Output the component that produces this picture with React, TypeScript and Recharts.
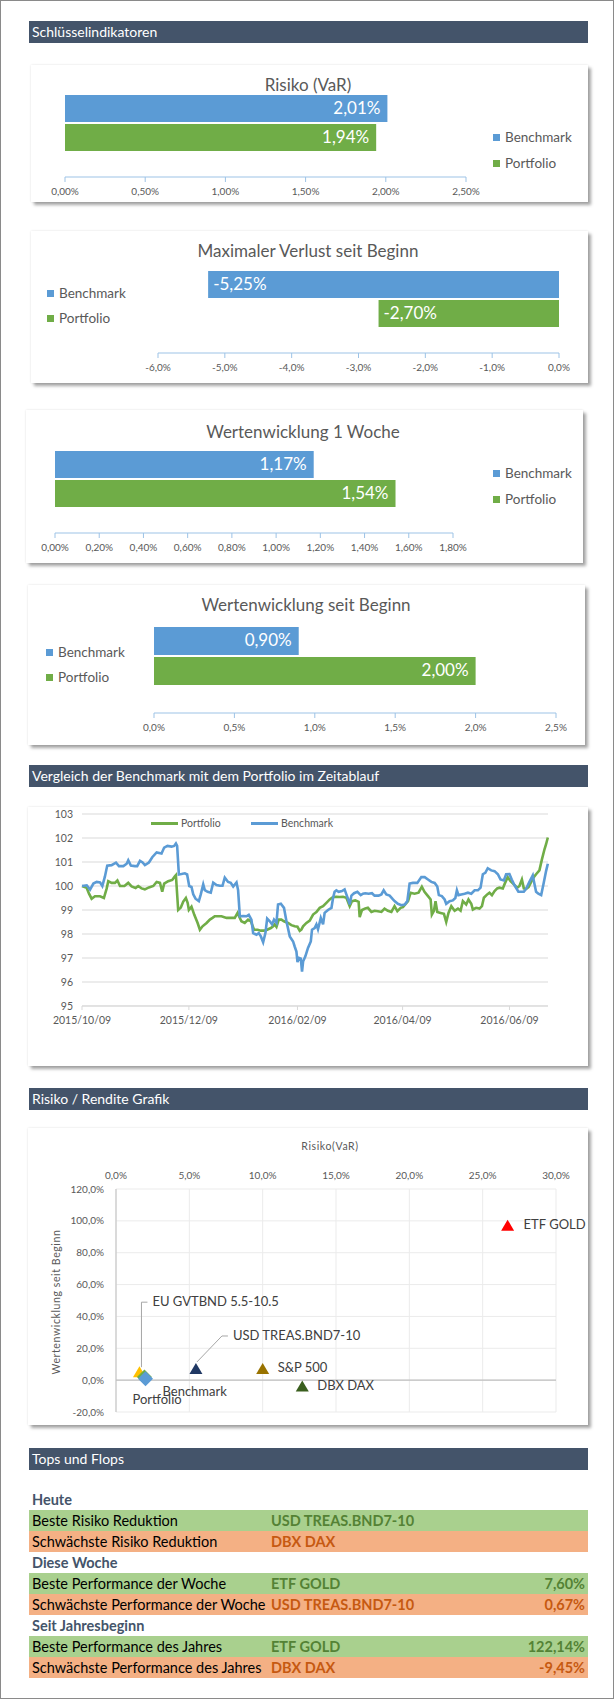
import React from 'react';
import {
  BarChart, Bar, XAxis, YAxis, LineChart, Line, CartesianGrid,
  ScatterChart, Scatter, ReferenceLine,
} from 'recharts';

// Schlüsselindikatoren (Benchmark, Portfolio)
const seriesNames = ['Benchmark', 'Portfolio'];
const varValues = [2.01, 1.94];
const maxLossValues = [-5.25, -2.7];
const week1Values = [1.17, 1.54];
const sinceStartValues = [0.9, 2.0];

const varTicks = [0, 0.5, 1, 1.5, 2, 2.5];
const maxLossTicks = [-6, -5, -4, -3, -2, -1, 0];
const week1Ticks = [0, 0.2, 0.4, 0.6, 0.8, 1, 1.2, 1.4, 1.6, 1.8];
const sinceStartTicks = [0, 0.5, 1, 1.5, 2, 2.5];

// Zeitverlauf: [Tage seit 2015/10/09, Indexwert]
const dateTickDays = [0, 61, 123, 183, 244];
const dateTickLabels = ['2015/10/09', '2015/12/09', '2016/02/09', '2016/04/09', '2016/06/09'];
const indexTicks = [95, 96, 97, 98, 99, 100, 101, 102, 103];

const portfolioSeries: [number, number][] = [
  [0, 100.0], [2.7, 99.92], [4, 99.68], [5.5, 99.47], [7.4, 99.57], [10.3, 99.57], [12.5, 99.5], [14.1, 99.9],
  [15, 100.2], [16.9, 100.13], [18.8, 100.13], [20.2, 100.23], [21.7, 100.0], [24.2, 100.0], [26.4, 100.13],
  [28.3, 99.98], [30.6, 99.92], [32.1, 100.0], [34, 99.9], [35.9, 99.86], [38.2, 99.94], [40.7, 100.0],
  [42.6, 100.17], [44.5, 100.13], [45.8, 99.76], [46.9, 100.1], [49.2, 100.2], [51.5, 100.25], [53, 100.4],
  [53.6, 100.45], [54.9, 99.0], [56.4, 99.1], [57.8, 99.35], [59.3, 99.5], [60.3, 99.3], [61, 99.0],
  [62.5, 99.14], [64.1, 98.8], [66, 98.46], [67.3, 98.18], [68.8, 98.32], [71.1, 98.46], [73, 98.6],
  [74.5, 98.67], [75.8, 98.74], [79.6, 98.74], [82.5, 98.67], [87.2, 98.67], [88.8, 98.88], [90.1, 98.67],
  [91, 98.53], [92.9, 98.46], [94.8, 98.6], [96.4, 98.53], [98.2, 98.18], [100.2, 98.18], [102.1, 98.14],
  [103.9, 98.14], [105.7, 98.18], [107.8, 98.25], [109.1, 98.32], [110, 98.4], [111, 98.3], [112.3, 98.6],
  [113.8, 98.6], [115.3, 98.53], [117.6, 98.46], [119.5, 98.37], [121.4, 98.32], [123, 98.3], [124.3, 98.13],
  [125.2, 98.18], [126.2, 98.32], [128.1, 98.46], [130, 98.56], [131.9, 98.81], [133.8, 98.91], [135.7, 99.09],
  [137.6, 99.16], [139.5, 99.3], [141.4, 99.44], [143.3, 99.54], [145.2, 99.55], [147.1, 99.54], [149, 99.55],
  [150.9, 99.51], [152.8, 99.16], [154.1, 99.37], [156, 99.4], [157.9, 99.34], [158.5, 98.7], [159.8, 99.0],
  [161.7, 99.06], [163.2, 99.09], [165.2, 98.92], [167, 98.97], [168.9, 98.95], [170.9, 98.92], [172.7, 99.06],
  [174.6, 98.97], [176.6, 98.92], [178.4, 99.16], [180, 98.95], [181.9, 99.09], [183.2, 99.12], [184.5, 99.23],
  [186.1, 99.37], [187.6, 99.72], [189.8, 99.68], [192.1, 99.72], [194, 99.97], [195.5, 99.76], [197.5, 99.58],
  [199, 99.44], [199.7, 98.81], [200.9, 98.97], [201.8, 99.37], [202.8, 98.92], [204.7, 98.88], [206.6, 98.84],
  [207.9, 98.5], [209.2, 98.88], [210.8, 99.16], [212.7, 98.97], [214.6, 99.06], [216.1, 98.97], [217.4, 99.37],
  [219.3, 99.23], [220.6, 99.44], [222.2, 99.26], [223.1, 99.02], [225, 99.09], [226.9, 99.06], [228.3, 99.16],
  [229.4, 99.51], [231.3, 99.65], [232.6, 99.72], [234, 99.62], [235.5, 99.79], [237, 99.9], [238.3, 99.93],
  [240.2, 99.9], [241.5, 100.13], [243, 100.37], [244.6, 100.2], [246.5, 100.07], [248.4, 99.93], [249.7, 100.0],
  [251.1, 100.27], [252.2, 99.9], [253.5, 99.88], [254.9, 99.95], [256.4, 100.17], [257.9, 100.37],
  [259.2, 100.49], [261.1, 100.65], [262.5, 101.1], [264, 101.53], [264.9, 101.74], [265.9, 102.02],
];

const benchmarkSeries: [number, number][] = [
  [0, 100.0], [2.7, 100.03], [4.6, 99.85], [6.5, 100.1], [8.4, 100.17], [10.3, 100.15], [11.6, 100.0],
  [13.1, 100.4], [14.4, 100.85], [16.9, 100.87], [19.4, 100.97], [21.1, 100.83], [23.6, 100.83], [25.5, 100.93],
  [26.4, 101.07], [27.9, 100.85], [30.2, 100.83], [31.5, 100.83], [33.1, 101.05], [34.6, 100.98], [35.9, 100.87],
  [38.2, 100.98], [40.1, 101.2], [42.6, 101.4], [45.4, 101.35], [46.9, 101.6], [48.8, 101.67], [51.1, 101.64],
  [52.6, 101.67], [53.6, 101.77], [54.3, 101.67], [55.3, 100.48], [56.8, 100.5], [58.7, 100.53], [60, 100.48],
  [61.2, 100.0], [62.5, 99.96], [63.5, 99.65], [64.8, 99.47], [66.7, 99.37], [67.8, 99.65], [69.2, 100.07],
  [70.1, 99.83], [71.7, 99.76], [73.5, 99.72], [74.9, 100.14], [76.8, 100.04], [78.7, 100.01], [80.2, 100.01],
  [81.5, 100.35], [83.4, 100.17], [84.9, 100.13], [86.3, 99.98], [88.2, 100.15], [89.1, 99.83], [90.1, 98.74],
  [92, 98.75], [93.9, 98.74], [95.2, 98.8], [96.7, 98.6], [97.7, 98.04], [99.6, 97.97], [100.9, 98.04],
  [102.1, 97.9], [103.4, 97.66], [104.7, 98.04], [105.7, 98.64], [107.2, 98.53], [108.5, 98.4], [109.6, 98.6],
  [111, 98.46], [111.9, 99.23], [113.5, 99.26], [115.3, 99.09], [116.7, 98.53], [118.6, 97.9], [120.5, 97.69],
  [121.4, 97.48], [122.4, 97.27], [123, 96.83], [123.9, 97.0], [124.9, 96.97], [125.6, 96.43], [126.2, 96.85],
  [127.5, 97.07], [129, 97.42], [130.6, 97.69], [131.3, 98.18], [132.8, 98.25], [133.8, 98.4], [134.7, 98.2],
  [136.3, 98.67], [137.6, 98.4], [138.5, 98.88], [140.4, 99.0], [142.4, 99.09], [143.3, 99.5], [144.2, 99.76],
  [145.2, 99.82], [146.5, 99.76], [148.4, 99.79], [149.9, 99.86], [150.9, 99.65], [151.8, 99.47], [152.8, 99.23],
  [153.8, 99.6], [155.3, 99.7], [157.2, 99.76], [159.1, 99.62], [160.4, 99.68], [161.7, 99.7], [163.6, 99.68],
  [165.5, 99.7], [167, 99.6], [169.3, 99.6], [170.9, 99.65], [172.2, 99.82], [173.7, 99.65], [175.6, 99.6],
  [177.5, 99.44], [178.4, 99.37], [180.3, 99.26], [182.3, 99.2], [184.2, 99.23], [185.7, 99.37], [187, 100.1],
  [188.9, 100.13], [191.4, 100.13], [193.7, 100.37], [195.6, 100.37], [197.5, 100.27], [199.4, 100.17],
  [201.3, 100.13], [202.8, 99.98], [203.7, 99.62], [205.4, 99.58], [207, 99.44], [207.9, 99.26], [209.8, 99.37],
  [211.7, 99.4], [213.1, 99.5], [214, 99.82], [214.9, 99.62], [216.5, 99.65], [218.4, 99.68], [220.3, 99.72],
  [222.2, 99.68], [224.1, 99.82], [226, 99.82], [227.5, 99.93], [228.8, 100.49], [230.2, 100.55], [231.6, 100.74],
  [233.6, 100.65], [235.5, 100.62], [237.4, 100.49], [238.9, 100.27], [240.8, 100.23], [242.1, 100.49],
  [244, 100.5], [245.3, 100.27], [246.9, 100.03], [249.1, 99.76], [250.7, 99.76], [252.2, 99.76], [253.5, 99.88],
  [255.4, 100.17], [257.3, 100.44], [258.3, 100.07], [259.2, 99.76], [260.5, 99.68], [262.1, 99.62],
  [263.4, 100.07], [264.9, 100.62], [265.9, 100.93],
];

// Risiko / Rendite (VaR %, Wertentwicklung %)
const assetNames = ['EU GVTBND 5.5-10.5', 'USD TREAS.BND7-10', 'S&P 500', 'DBX DAX', 'ETF GOLD', 'Portfolio', 'Benchmark'];
const assetRisk = [1.6, 5.45, 10.0, 12.7, 26.7, 1.94, 2.01];
const assetReturn = [5.0, 7.0, 7.0, -4.0, 97.0, 2.0, 0.9];
const riskTicks = [0, 5, 10, 15, 20, 25, 30];
const returnTicks = [-20, 0, 20, 40, 60, 80, 100, 120];

// Tops und Flops
const tableSections = ['Heute', 'Diese Woche', 'Seit Jahresbeginn'];
const tableLabels = [
  'Beste Risiko Reduktion', 'Schwächste Risiko Reduktion',
  'Beste Performance der Woche', 'Schwächste Performance der Woche',
  'Beste Performance des Jahres', 'Schwächste Performance des Jahres',
];
const tableAssets = ['USD TREAS.BND7-10', 'DBX DAX', 'ETF GOLD', 'USD TREAS.BND7-10', 'ETF GOLD', 'DBX DAX'];
const tableValues = ['', '', '7,60%', '0,67%', '122,14%', '-9,45%'];

const BLUE = '#5B9BD5';
const GREEN = '#70AD47';
const GREY_TEXT = '#595959';
const FONT = 'Lato, sans-serif';

const fmt = (v: number, d: number) => v.toFixed(d).replace('.', ',') + '%';

const cardStyle = (left: number, top: number, width: number, height: number): React.CSSProperties => ({
  position: 'absolute', left, top, width, height, background: '#fff',
  boxShadow: '0 0 2px rgba(0,0,0,0.12), 3px 3px 3px rgba(0,0,0,0.35)',
});

const SectionHeader = ({ text, top }: { text: string; top: number }) => (
  <div style={{
    position: 'absolute', left: 29, top, width: 556, height: 22, paddingLeft: 3,
    background: '#44546A', color: '#fff', fontSize: 14, lineHeight: '22px',
  }}>{text}</div>
);

const barShape = (key: string, fill: string) => (props: any) => {
  const { x, y, width, height, payload } = props;
  const v: number = payload[key];
  const left = Math.min(x, x + width);
  const w = Math.abs(width);
  const neg = v < 0;
  return (
    <g>
      <rect x={left} y={y} width={w} height={height} fill={fill} />
      <text x={neg ? left + 5 : left + w - 7} y={y + height / 2 + 1} textAnchor={neg ? 'start' : 'end'}
        dominantBaseline="middle" fill="#fff" fontSize={17} fontFamily={FONT}>{fmt(v, 2)}</text>
    </g>
  );
};

type BarCardProps = {
  title: string; values: number[]; ticks: number[]; digits: number;
  box: [number, number, number, number]; margin: { top: number; right: number; bottom: number; left: number };
  barSize: number; titleX: number; titleY: number; legendX: number; legendY: [number, number];
};

const BarCard = ({ title, values, ticks, digits, box, margin, barSize, titleX, titleY, legendX, legendY }: BarCardProps) => {
  const [left, top, width, height] = box;
  const data = [{ name: title, [seriesNames[0]]: values[0], [seriesNames[1]]: values[1] }];
  return (
    <div style={cardStyle(left, top, width, height)}>
      <div style={{ position: 'absolute', left: titleX - left - 200, top: titleY - top - 12, width: 400, textAlign: 'center', fontSize: 17, color: GREY_TEXT }}>{title}</div>
      <BarChart width={width} height={height} data={data} layout="vertical" margin={margin} barSize={barSize} barGap={2}>
        <XAxis type="number" domain={[ticks[0], ticks[ticks.length - 1]]} ticks={ticks} interval={0}
          tickFormatter={(v: number) => fmt(v, digits)} height={20}
          axisLine={{ stroke: '#9DC3E6' }} tickLine={{ stroke: '#9DC3E6' }} tickSize={5} tickMargin={6}
          tick={{ fill: GREY_TEXT, fontSize: 10, fontFamily: FONT }} />
        <YAxis type="category" dataKey="name" hide />
        {seriesNames.map((s, i) => (
          <Bar key={s} dataKey={s} fill={i === 0 ? BLUE : GREEN} isAnimationActive={false}
            shape={barShape(s, i === 0 ? BLUE : GREEN)} />
        ))}
      </BarChart>
      {seriesNames.map((s, i) => (
        <div key={s} style={{ position: 'absolute', left: legendX - left, top: legendY[i] - top - 9, height: 18, display: 'flex', alignItems: 'center', fontSize: 13.5, color: GREY_TEXT }}>
          <span style={{ display: 'inline-block', width: 7, height: 7, background: i === 0 ? BLUE : GREEN, marginRight: 5 }} />
          {s}
        </div>
      ))}
    </div>
  );
};

const triangle = (cx: number, cy: number, fill: string) => (
  <path d={`M${cx},${cy - 6} L${cx + 6.5},${cy + 5} L${cx - 6.5},${cy + 5} Z`} fill={fill} />
);
const diamond = (cx: number, cy: number, fill: string) => (
  <path d={`M${cx},${cy - 7.5} L${cx + 7.5},${cy} L${cx},${cy + 7.5} L${cx - 7.5},${cy} Z`} fill={fill} />
);

const assetColors = ['#FFC000', '#203864', '#997300', '#3A5F1E', '#FF0000', GREEN, BLUE];
const assetLabelPos: Record<string, { dx: number; dy: number; leader?: number[][] }> = {
  'EU GVTBND 5.5-10.5': { dx: 13, dy: -69, leader: [[2, -5], [2, -70], [8, -70]] },
  'USD TREAS.BND7-10': { dx: 37, dy: -32, leader: [[1, -7], [26, -33], [32, -33]] },
  'S&P 500': { dx: 15, dy: 0 },
  'DBX DAX': { dx: 15, dy: 0 },
  'ETF GOLD': { dx: 16, dy: 0 },
  Portfolio: { dx: -12, dy: 24 },
  Benchmark: { dx: 17, dy: 14 },
};

const assetShape = (idx: number) => (props: any) => {
  const { cx, cy, payload } = props;
  const name: string = payload.name;
  const pos = assetLabelPos[name];
  const isDiamond = name === 'Portfolio' || name === 'Benchmark';
  return (
    <g>
      {pos.leader && (
        <polyline points={pos.leader.map(([a, b]) => `${cx + a},${cy + b}`).join(' ')} fill="none" stroke="#A6A6A6" strokeWidth={1} />
      )}
      {isDiamond ? diamond(cx, cy, assetColors[idx]) : triangle(cx, cy, assetColors[idx])}
      <text x={cx + pos.dx} y={cy + pos.dy} dominantBaseline="middle" fontSize={13} fill="#404040" fontFamily={FONT}>{name}</text>
    </g>
  );
};

export default function App() {
  const portfolioData = portfolioSeries.map(([d, v]) => ({ d, v }));
  const benchmarkData = benchmarkSeries.map(([d, v]) => ({ d, v }));

  return (
    <div style={{ position: 'relative', width: 616, height: 1700, background: '#fff', fontFamily: FONT, overflow: 'hidden' }}>
      <style>{'body{margin:0}'}</style>
      <div style={{ position: 'absolute', left: 0, top: 0, width: 612, height: 1697, border: '1px solid #8A8A8A' }} />

      <SectionHeader text="Schlüsselindikatoren" top={21} />

      <BarCard title="Risiko (VaR)" values={varValues} ticks={varTicks} digits={2}
        box={[31, 65, 557, 137]} margin={{ top: 4, right: 122, bottom: 5, left: 34 }} barSize={27}
        titleX={308} titleY={86} legendX={493} legendY={[137, 163]} />
      <BarCard title="Maximaler Verlust seit Beginn" values={maxLossValues} ticks={maxLossTicks} digits={1}
        box={[31, 231, 557, 152]} margin={{ top: 13, right: 29, bottom: 10, left: 127 }} barSize={27}
        titleX={308} titleY={252} legendX={47} legendY={[293, 318]} />
      <BarCard title="Wertenwicklung 1 Woche" values={week1Values} ticks={week1Ticks} digits={2}
        box={[26, 410, 557, 153]} margin={{ top: 15, right: 130, bottom: 10, left: 29 }} barSize={27}
        titleX={303} titleY={433} legendX={493} legendY={[473, 499]} />
      <BarCard title="Wertenwicklung seit Beginn" values={sinceStartValues} ticks={sinceStartTicks} digits={1}
        box={[28, 585, 557, 160]} margin={{ top: 14, right: 29, bottom: 12, left: 126 }} barSize={28}
        titleX={306} titleY={606} legendX={46} legendY={[652, 677]} />

      <SectionHeader text="Vergleich der Benchmark mit dem Portfolio im Zeitablauf" top={765} />
      <div style={cardStyle(28, 807, 560, 259)}>
        <LineChart width={560} height={259} margin={{ top: 7, right: 40, bottom: 30, left: 10 }}>
          <CartesianGrid vertical={false} stroke="#D9D9D9" strokeWidth={1.2} />
          <XAxis type="number" dataKey="d" domain={[0, 266]} ticks={dateTickDays} interval={0}
            tickFormatter={(v: number) => dateTickLabels[dateTickDays.indexOf(v)]} height={30}
            axisLine={{ stroke: '#D9D9D9' }} tickLine={{ stroke: '#D9D9D9' }} tickSize={4} tickMargin={7}
            tick={{ fill: GREY_TEXT, fontSize: 10.5, fontFamily: FONT }} />
          <YAxis type="number" domain={[95, 103]} ticks={indexTicks} interval={0} width={44}
            axisLine={false} tickLine={false} tickSize={6} tickMargin={3}
            tick={{ fill: GREY_TEXT, fontSize: 10.5, fontFamily: FONT }} />
          <Line data={portfolioData} dataKey="v" type="linear" stroke={GREEN} strokeWidth={2.6} dot={false} isAnimationActive={false} />
          <Line data={benchmarkData} dataKey="v" type="linear" stroke={BLUE} strokeWidth={2.6} dot={false} isAnimationActive={false} />
        </LineChart>
        {[{ n: 'Portfolio', c: GREEN, x: 151 }, { n: 'Benchmark', c: BLUE, x: 251 }].map((l) => (
          <div key={l.n} style={{ position: 'absolute', left: l.x - 28, top: 823 - 807 - 8, height: 16, display: 'flex', alignItems: 'center', fontSize: 10.5, color: GREY_TEXT }}>
            <span style={{ display: 'inline-block', width: 27, height: 3, background: l.c, marginRight: 3 }} />
            {l.n}
          </div>
        ))}
      </div>

      <SectionHeader text="Risiko / Rendite Grafik" top={1088} />
      <div style={cardStyle(28, 1128, 560, 297)}>
        <div style={{ position: 'absolute', left: 330 - 28 - 60, top: 1148 - 1128 - 8, width: 120, textAlign: 'center', fontSize: 10.5, color: GREY_TEXT, letterSpacing: 0.6 }}>Risiko(VaR)</div>
        <div style={{ position: 'absolute', left: 58 - 28 - 100, top: 1302 - 1128 - 8, width: 200, height: 16, textAlign: 'center', fontSize: 10.5, color: GREY_TEXT, letterSpacing: 0.6, transform: 'rotate(-90deg)' }}>Wertenwicklung seit Beginn</div>
        <ScatterChart width={560} height={297} margin={{ top: 41, right: 32, bottom: 13, left: 38 }}>
          <CartesianGrid stroke="#EBEBEB" />
          <XAxis type="number" dataKey="x" orientation="top" domain={[0, 30]} ticks={riskTicks} interval={0} height={20}
            tickFormatter={(v: number) => fmt(v, 1)} axisLine={false} tickLine={false} tickSize={6} tickMargin={4}
            tick={{ fill: GREY_TEXT, fontSize: 10, fontFamily: FONT }} />
          <YAxis type="number" dataKey="y" domain={[-20, 120]} ticks={returnTicks} interval={0} width={50}
            tickFormatter={(v: number) => fmt(v, 1)} axisLine={{ stroke: '#BFBFBF' }} tickLine={false} tickSize={6} tickMargin={6}
            tick={{ fill: GREY_TEXT, fontSize: 10, fontFamily: FONT }} />
          <ReferenceLine y={0} stroke="#BFBFBF" strokeWidth={1.2} />
          {assetNames.map((n, i) => (
            <Scatter key={n} name={n} data={[{ x: assetRisk[i], y: assetReturn[i], name: n }]}
              shape={assetShape(i)} isAnimationActive={false} />
          ))}
        </ScatterChart>
      </div>

      <SectionHeader text="Tops und Flops" top={1448} />
      <div style={{ position: 'absolute', left: 29, top: 1489, width: 559, fontSize: 14.5 }}>
        {tableSections.map((sec, s) => (
          <div key={sec}>
            <div style={{ height: 21, lineHeight: '21px', paddingLeft: 3, fontWeight: 700, color: '#44546A' }}>{sec}</div>
            {[0, 1].map((k) => {
              const r = s * 2 + k;
              const top = k === 0;
              const strong = top ? '#548235' : '#C65911';
              return (
                <div key={r} style={{ position: 'relative', height: 21, lineHeight: '21px', background: top ? '#A9D08E' : '#F4B084' }}>
                  <span style={{ position: 'absolute', left: 3, color: '#000' }}>{tableLabels[r]}</span>
                  <span style={{ position: 'absolute', left: 242, fontWeight: 700, color: strong }}>{tableAssets[r]}</span>
                  <span style={{ position: 'absolute', right: 3, fontWeight: 700, color: strong }}>{tableValues[r]}</span>
                </div>
              );
            })}
          </div>
        ))}
      </div>
    </div>
  );
}
